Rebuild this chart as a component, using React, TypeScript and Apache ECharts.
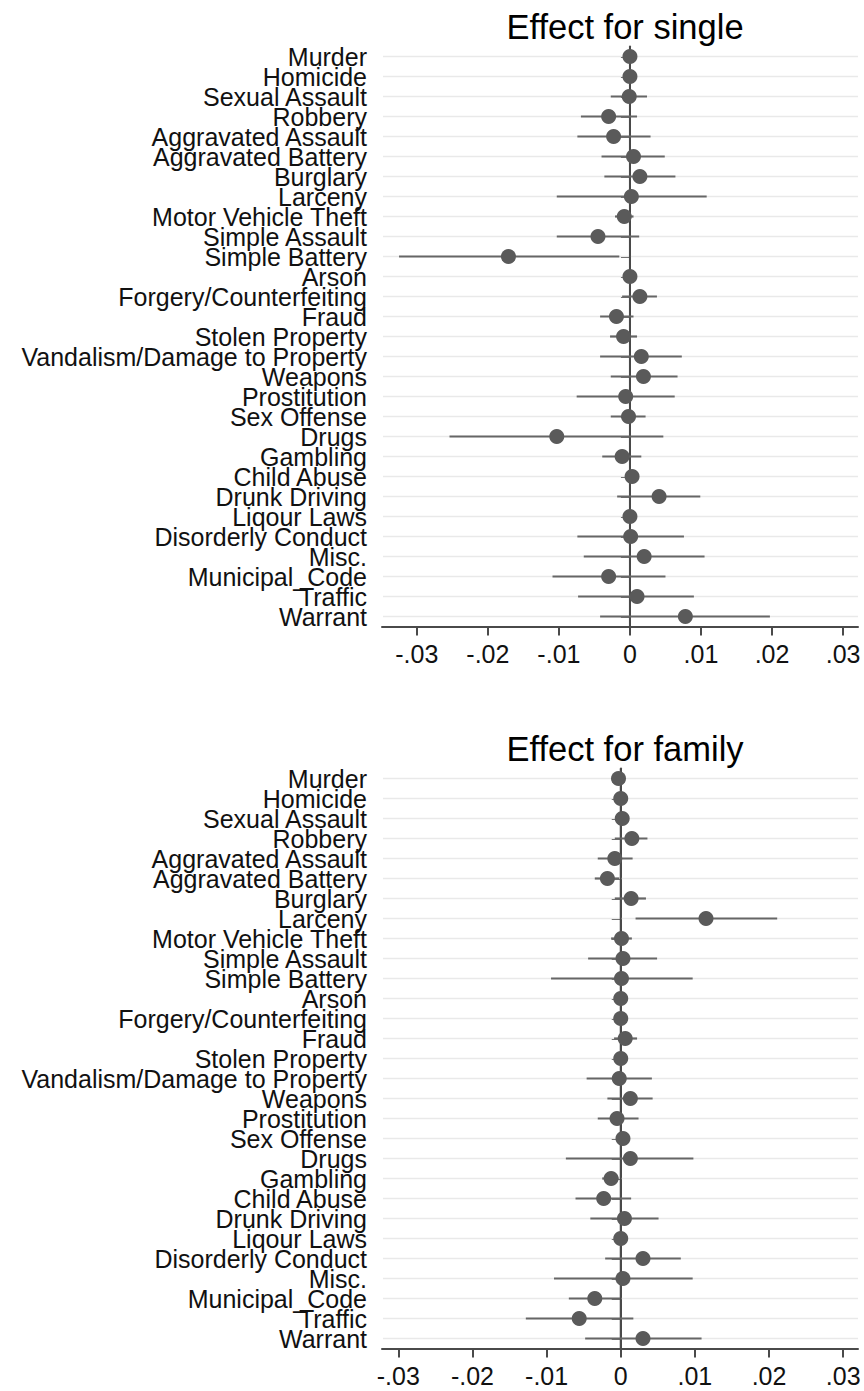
import React, { useEffect, useRef } from "react";
import * as echarts from "echarts";

const categories = [
  "Murder", "Homicide", "Sexual Assault", "Robbery", "Aggravated Assault",
  "Aggravated Battery", "Burglary", "Larceny", "Motor Vehicle Theft",
  "Simple Assault", "Simple Battery", "Arson", "Forgery/Counterfeiting",
  "Fraud", "Stolen Property", "Vandalism/Damage to Property", "Weapons",
  "Prostitution", "Sex Offense", "Drugs", "Gambling", "Child Abuse",
  "Drunk Driving", "Liqour Laws", "Disorderly Conduct", "Misc.",
  "Municipal_Code", "Traffic", "Warrant",
];

const singleEst = [
  0.0000, 0.0000, -0.0001, -0.0030, -0.0023, 0.0005, 0.0014, 0.0002, -0.0008,
  -0.0045, -0.0171, 0.0000, 0.0014, -0.0019, -0.0009, 0.0016, 0.0019, -0.0006,
  -0.0002, -0.0103, -0.0011, 0.0003, 0.0041, 0.0000, 0.0001, 0.0020, -0.0030,
  0.0010, 0.0078,
];
const singleLo = [
  -0.0003, -0.0003, -0.0027, -0.0069, -0.0074, -0.0040, -0.0036, -0.0103, -0.0021,
  -0.0103, -0.0325, -0.0003, -0.0011, -0.0042, -0.0028, -0.0042, -0.0027, -0.0075,
  -0.0027, -0.0254, -0.0039, -0.0002, -0.0018, -0.0003, -0.0074, -0.0065, -0.0109,
  -0.0073, -0.0042,
];
const singleHi = [
  0.0003, 0.0003, 0.0024, 0.0010, 0.0029, 0.0049, 0.0064, 0.0108, 0.0005,
  0.0013, -0.0015, 0.0003, 0.0038, 0.0005, 0.0010, 0.0073, 0.0067, 0.0063,
  0.0022, 0.0047, 0.0016, 0.0008, 0.0099, 0.0003, 0.0076, 0.0105, 0.0050,
  0.0090, 0.0197,
];

const familyEst = [
  -0.0003, 0.0000, 0.0002, 0.0015, -0.0008, -0.0018, 0.0014, 0.0115, 0.0001,
  0.0003, 0.0001, 0.0000, 0.0000, 0.0006, 0.0000, -0.0002, 0.0013, -0.0005,
  0.0003, 0.0013, -0.0013, -0.0023, 0.0005, 0.0000, 0.0030, 0.0003, -0.0035,
  -0.0056, 0.0030,
];
const familyLo = [
  -0.0006, -0.0003, -0.0002, -0.0008, -0.0031, -0.0035, -0.0008, 0.0020, -0.0013,
  -0.0044, -0.0094, -0.0003, -0.0005, -0.0009, -0.0005, -0.0046, -0.0018, -0.0031,
  -0.0001, -0.0074, -0.0025, -0.0061, -0.0041, -0.0003, -0.0021, -0.0090, -0.0070,
  -0.0128, -0.0048,
];
const familyHi = [
  0.0000, 0.0003, 0.0006, 0.0036, 0.0016, -0.0002, 0.0034, 0.0211, 0.0015,
  0.0049, 0.0097, 0.0003, 0.0005, 0.0022, 0.0005, 0.0042, 0.0043, 0.0024,
  0.0007, 0.0098, -0.0003, 0.0014, 0.0051, 0.0003, 0.0081, 0.0097, -0.0001,
  0.0017, 0.0109,
];

const xTicks = [-0.03, -0.02, -0.01, 0, 0.01, 0.02, 0.03];
const panelTitles = ["Effect for single", "Effect for family"];

const FONT = "'Liberation Sans', Arial, Helvetica, sans-serif";
const AXIS_COLOR = "#4a4a4a";
const GRID_COLOR = "#e9e9e9";
const MARK_COLOR = "#5a5a5a";
const CI_COLOR = "#666666";

const fmtTick = (v: number) => {
  if (Math.abs(v) < 1e-9) return "0";
  const s = Math.abs(v).toFixed(2).replace(/^0/, "");
  return (v < 0 ? "-" : "") + s;
};

function buildPanel(i: number, est: number[], lo: number[], hi: number[]) {
  const series: any[] = [];
  series.push({
    type: "custom",
    xAxisIndex: i,
    yAxisIndex: i,
    z: 1,
    silent: true,
    encode: { x: 0, y: 1 },
    data: categories.map((_, k) => [0, k]),
    renderItem: (params: any, api: any) => {
      const cs = params.coordSys;
      const y = api.coord([0, api.value(1)])[1];
      return {
        type: "line",
        shape: { x1: cs.x + 1, y1: y, x2: cs.x + cs.width, y2: y },
        style: { stroke: GRID_COLOR, lineWidth: 1.6 },
      };
    },
  });
  series.push({
    type: "custom",
    xAxisIndex: i,
    yAxisIndex: i,
    z: 2,
    silent: true,
    encode: { x: 0, y: 1 },
    data: [[0, 0]],
    renderItem: (params: any, api: any) => {
      const cs = params.coordSys;
      const x = api.coord([api.value(0), 0])[0];
      return {
        type: "line",
        shape: { x1: x, y1: cs.y, x2: x, y2: cs.y + cs.height },
        style: { stroke: AXIS_COLOR, lineWidth: 2 },
      };
    },
  });
  series.push({
    type: "custom",
    xAxisIndex: i,
    yAxisIndex: i,
    z: 3,
    silent: true,
    encode: { x: [0, 1], y: 2 },
    data: categories.map((_, k) => [lo[k], hi[k], k]),
    renderItem: (params: any, api: any) => {
      const p1 = api.coord([api.value(0), api.value(2)]);
      const p2 = api.coord([api.value(1), api.value(2)]);
      return {
        type: "line",
        shape: { x1: p1[0], y1: p1[1], x2: p2[0], y2: p2[1] },
        style: { stroke: CI_COLOR, lineWidth: 2.2 },
      };
    },
  });
  series.push({
    type: "scatter",
    xAxisIndex: i,
    yAxisIndex: i,
    z: 4,
    symbol: "circle",
    symbolSize: 15,
    itemStyle: { color: MARK_COLOR, opacity: 1 },
    data: categories.map((_, k) => [est[k], k]),
  });
  return series;
}

export default function App() {
  const ref = useRef<HTMLDivElement>(null);
  useEffect(() => {
    if (!ref.current) return;
    const chart = echarts.init(ref.current, undefined, { renderer: "svg" });
    const grids = [
      { left: 382, right: 6, top: 46.5, height: 580 },
      { left: 382, right: 6, top: 768.5, height: 580 },
    ];
    const ranges = [
      { min: -0.0349, max: 0.0321 },
      { min: -0.0322, max: 0.032 },
    ];
    const xAxis = ranges.map((r, i) => ({
      type: "value",
      gridIndex: i,
      min: r.min,
      max: r.max,
      axisLine: { show: true, onZero: false, lineStyle: { color: AXIS_COLOR, width: 2 } },
      axisTick: {
        show: true,
        length: 9,
        customValues: xTicks,
        lineStyle: { color: AXIS_COLOR, width: 2 },
      },
      axisLabel: {
        customValues: xTicks,
        formatter: (v: number) => fmtTick(v),
        fontFamily: FONT,
        fontSize: 25,
        color: "#111",
        margin: 15,
      },
      splitLine: { show: false },
    }));
    const yAxis = [0, 1].map((i) => ({
      type: "category",
      gridIndex: i,
      inverse: true,
      data: categories,
      boundaryGap: true,
      axisLine: { show: true, lineStyle: { color: AXIS_COLOR, width: 2 } },
      axisTick: {
        show: true,
        alignWithLabel: true,
        length: 9,
        interval: 0,
        lineStyle: { color: AXIS_COLOR, width: 2 },
      },
      axisLabel: {
        interval: 0,
        fontFamily: FONT,
        fontSize: 25,
        color: "#111",
        margin: 15,
      },
      splitLine: { show: false },
    }));
    const option: any = {
      animation: false,
      backgroundColor: "#ffffff",
      title: [
        {
          text: panelTitles[0],
          left: 620,
          top: 4,
          textAlign: "center",
          textStyle: { fontFamily: FONT, fontSize: 34.5, fontWeight: "normal", color: "#000" },
        },
        {
          text: panelTitles[1],
          left: 620,
          top: 726,
          textAlign: "center",
          textStyle: { fontFamily: FONT, fontSize: 34.5, fontWeight: "normal", color: "#000" },
        },
      ],
      grid: grids,
      xAxis,
      yAxis,
      series: [
        ...buildPanel(0, singleEst, singleLo, singleHi),
        ...buildPanel(1, familyEst, familyLo, familyHi),
      ],
    };
    chart.setOption(option);
    return () => chart.dispose();
  }, []);
  return (
    <div
      ref={ref}
      style={{ position: "fixed", left: 0, top: 0, width: 864, height: 1391, background: "#fff" }}
    />
  );
}
